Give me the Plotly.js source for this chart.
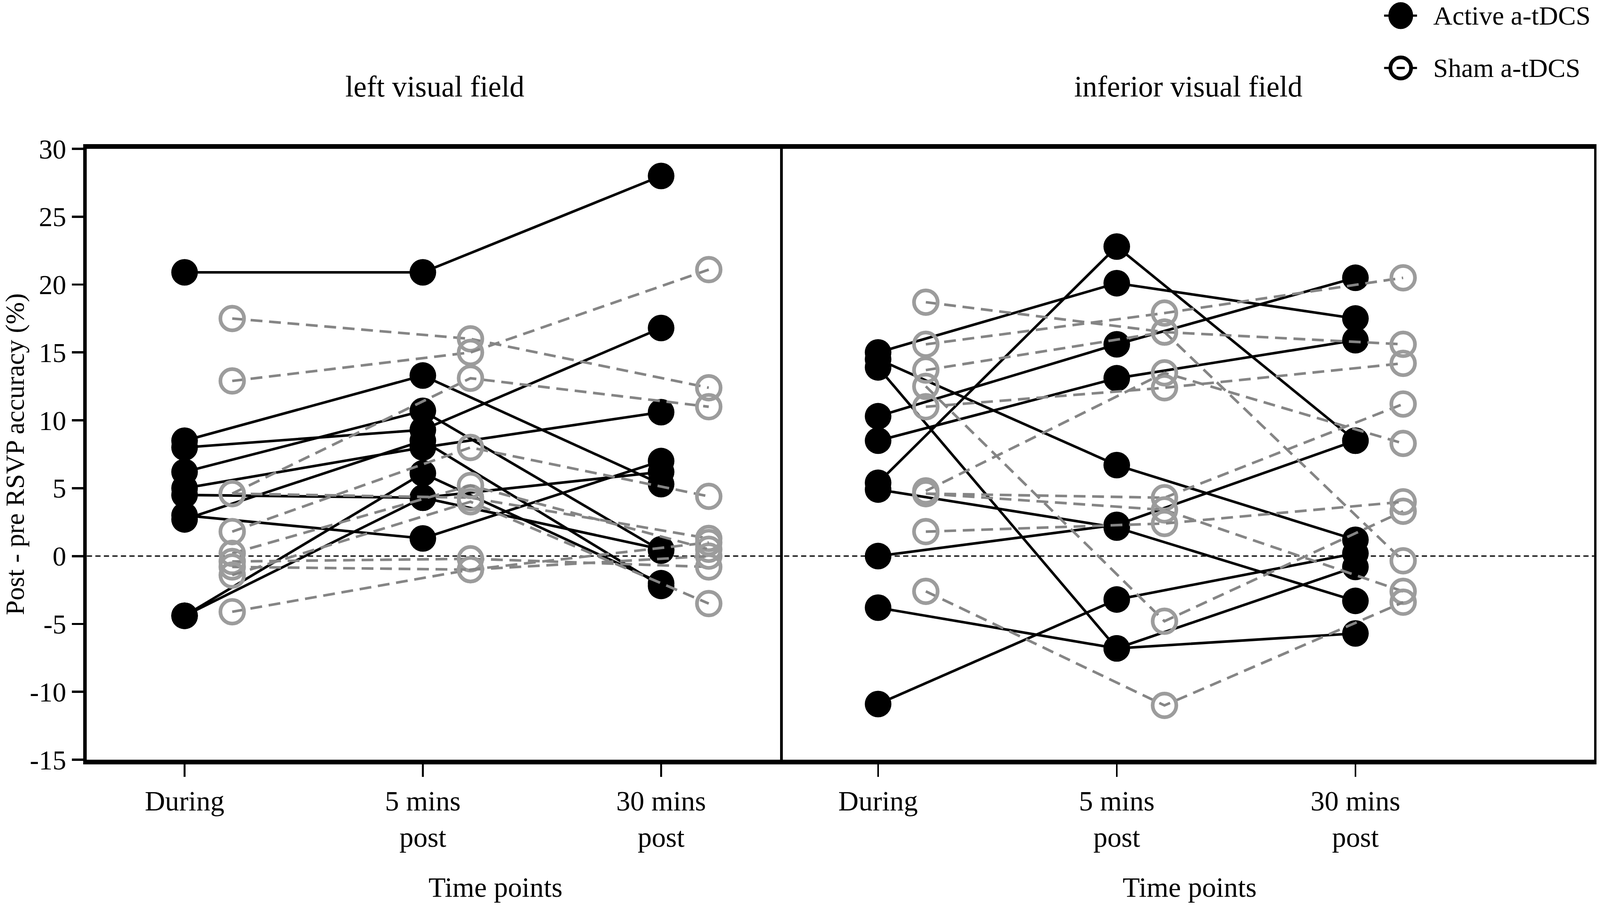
<!DOCTYPE html>
<html>
<head>
<meta charset="utf-8">
<script src="https://cdn.plot.ly/plotly-3.0.1.min.js"></script>
<style>
  html, body { margin: 0; padding: 0; background: #fff; overflow: hidden; }
  #chart { width: 100vw; height: 100vh; }
</style>
</head>
<body>
<div id="chart"></div>
<script>
// time points (x categories), panel names and y tick labels
var timeLabels = ['During', '5 mins<br>post', '30 mins<br>post'];
var panelTitles = ['left visual field', 'inferior visual field'];
var yTickVals = [-15, -10, -5, 0, 5, 10, 15, 20, 25, 30];
var yTickText = ['-15', '-10', '-5', '0', '5', '10', '15', '20', '25', '30'];

// post - pre RSVP accuracy (%), one row per participant: [During, 5 mins post, 30 mins post]
var leftActive = [
  [20.9, 20.9, 28.0],
  [8.5, 13.3, 5.3],
  [8.0, 9.3, 16.8],
  [6.2, 10.7, 0.4],
  [5.0, 8.0, 10.6],
  [4.5, 4.3, 6.2],
  [3.0, 1.3, 7.0],
  [2.7, 8.5, -2.2],
  [-4.4, 6.1, -2.0],
  [-4.4, 4.3, 0.5]
];
var leftSham = [
  [17.5, 16.0, 12.4],
  [12.9, 15.0, 21.1],
  [4.6, 13.1, 11.0],
  [4.6, 4.3, 1.3],
  [1.8, 8.0, 4.4],
  [0.2, 5.2, 0.5],
  [-0.4, -0.2, -0.8],
  [-0.8, -1.0, 0.0],
  [-1.4, 4.0, -3.5],
  [-4.1, -1.0, 1.0]
];
var rightActive = [
  [15.0, 20.1, 17.5],
  [14.5, 6.7, 1.2],
  [13.9, -6.8, -5.7],
  [10.3, 15.6, 20.5],
  [8.5, 13.1, 15.9],
  [5.4, 22.8, 8.5],
  [4.9, 2.1, -3.3],
  [0.0, 2.3, 8.5],
  [-3.8, -6.8, -0.8],
  [-10.9, -3.2, 0.2]
];
var rightSham = [
  [18.7, 16.5, 15.6],
  [15.6, 17.9, 20.5],
  [13.7, 16.5, -0.35],
  [12.5, -4.8, 3.3],
  [11.0, 12.4, 14.2],
  [4.8, 13.5, 8.3],
  [4.6, 4.3, 11.2],
  [4.6, 3.4, -2.6],
  [1.8, 2.4, 4.0],
  [-2.6, -11.0, -3.4]
];

// design size; the page is scaled to whatever the viewport really is
var W = 4328, H = 2317;
var vw = window.innerWidth || W, vh = window.innerHeight || H;
var s = Math.min(vw / W, vh / H);
function px(x) { return x / W; }
function py(y) { return 1 - y / H; }
function k(v) { return v * s; }

var FONT = 'Liberation Serif, Times New Roman, serif';
var shamShift = 0.2;   // sham drawn a little right of the active column

var traces = [];
function addGroup(rows, xa, ya, sham) {
  rows.forEach(function(vals) {
    var xs = vals.map(function(v, i) { return sham ? i + shamShift : i; });
    traces.push({
      x: xs, y: vals, xaxis: xa, yaxis: ya,
      type: 'scatter', mode: 'lines+markers',
      showlegend: false, hoverinfo: 'y',
      line: sham ? { color: '#858585', width: k(7), dash: k(32) + 'px,' + k(18) + 'px' } : { color: '#000', width: k(7) },
      marker: sham
        ? { symbol: 'circle-open', size: k(64), color: '#9c9c9c', line: { width: k(10), color: '#9c9c9c' } }
        : { symbol: 'circle', size: k(72), color: '#000', line: { width: 0 } }
    });
  });
}
addGroup(leftActive, 'x', 'y', false);
addGroup(leftSham, 'x', 'y', true);
addGroup(rightActive, 'x2', 'y2', false);
addGroup(rightSham, 'x2', 'y2', true);

var xL = [px(235), px(2117)];
var xR = [px(2117), px(4312)];
var yDom = [py(1945), py(381)];
var tickFont = { family: FONT, size: k(76), color: '#000' };
function txt(size) { return { family: FONT, size: k(size), color: '#000' }; }

var xBase = {
  tickmode: 'array', tickvals: [0, 1, 2], ticktext: timeLabels,
  ticks: 'outside', ticklen: k(33), tickwidth: k(5), tickcolor: '#000',
  showline: true, linewidth: k(13), linecolor: '#000', mirror: true,
  showgrid: false, zeroline: false, tickfont: tickFont, fixedrange: true
};
var xInner = {
  tickmode: 'array', tickvals: [0, 1, 2], showticklabels: false,
  ticks: 'inside', ticklen: k(31), tickwidth: k(5), tickcolor: '#000',
  showline: false, showgrid: false, zeroline: false
};

var layout = {
  width: vw, height: vh,
  paper_bgcolor: '#fff', plot_bgcolor: '#fff',
  margin: { l: 0, r: 0, t: 0, b: 0 },
  showlegend: false,
  font: txt(72),
  xaxis: Object.assign({}, xBase, { domain: xL, range: [-0.41, 2.51], anchor: 'y' }),
  xaxis3: Object.assign({}, xInner, { overlaying: 'x', anchor: 'y', range: [-0.41, 2.51] }),
  xaxis2: Object.assign({}, xBase, { domain: xR, range: [-0.40, 3.0], anchor: 'y2' }),
  xaxis4: Object.assign({}, xInner, { overlaying: 'x2', anchor: 'y2', range: [-0.40, 3.0] }),
  yaxis: {
    domain: yDom, range: [-15, 30], tickmode: 'array', tickvals: yTickVals, ticktext: yTickText, anchor: 'x',
    ticks: 'outside', ticklen: k(31), tickwidth: k(6), tickcolor: '#000',
    showline: true, linewidth: k(10), linecolor: '#000',
    showgrid: false, zeroline: false, tickfont: { family: FONT, size: k(74), color: '#000' },
    title: { text: 'Post - pre RSVP accuracy (%)', font: txt(72), standoff: k(14) }
  },
  yaxis3: {
    overlaying: 'y', anchor: 'x', range: [-15, 30], tickmode: 'array', tickvals: yTickVals,
    ticks: 'inside', ticklen: k(31), tickwidth: k(6), tickcolor: '#000',
    showticklabels: false, showline: false, showgrid: false, zeroline: false
  },
  yaxis2: {
    domain: yDom, range: [-15, 30], anchor: 'x2', matches: 'y',
    showticklabels: false, ticks: '',
    showline: true, linewidth: k(7), linecolor: '#000', mirror: true,
    showgrid: false, zeroline: false
  },
  shapes: [
    // reference line at zero across both panels
    { type: 'line', xref: 'paper', yref: 'y', x0: xL[0], x1: xR[1], y0: 0, y1: 0,
      line: { color: '#000', width: k(3.5), dash: k(14) + 'px,' + k(9) + 'px' }, layer: 'below' },
    // legend keys
    { type: 'line', xref: 'paper', yref: 'paper', x0: px(3744), x1: px(3833), y0: py(40), y1: py(40),
      line: { color: '#000', width: k(6) } },
    { type: 'circle', xref: 'paper', yref: 'paper', x0: px(3756), x1: px(3822), y0: py(6), y1: py(74),
      fillcolor: '#000', line: { color: '#000', width: 1 } },
    { type: 'line', xref: 'paper', yref: 'paper', x0: px(3744), x1: px(3833), y0: py(174), y1: py(174),
      line: { color: '#000', width: k(6), dash: k(22) + 'px,' + k(12) + 'px' } },
    { type: 'circle', xref: 'paper', yref: 'paper', x0: px(3761), x1: px(3817), y0: py(147), y1: py(201),
      line: { color: '#000', width: k(10) } }
  ],
  annotations: [
    { text: panelTitles[0], xref: 'paper', yref: 'paper', x: px(1176), y: py(221),
      xanchor: 'center', yanchor: 'middle', showarrow: false, font: txt(80) },
    { text: panelTitles[1], xref: 'paper', yref: 'paper', x: px(3214), y: py(221),
      xanchor: 'center', yanchor: 'middle', showarrow: false, font: txt(80) },
    { text: 'Time points', xref: 'paper', yref: 'paper', x: px(1340), y: py(2272),
      xanchor: 'center', yanchor: 'middle', showarrow: false, font: txt(76) },
    { text: 'Time points', xref: 'paper', yref: 'paper', x: px(3218), y: py(2272),
      xanchor: 'center', yanchor: 'middle', showarrow: false, font: txt(76) },
    { text: 'Active a-tDCS', xref: 'paper', yref: 'paper', x: px(3875), y: py(40),
      xanchor: 'left', yanchor: 'middle', showarrow: false, font: txt(72) },
    { text: 'Sham a-tDCS', xref: 'paper', yref: 'paper', x: px(3875), y: py(174),
      xanchor: 'left', yanchor: 'middle', showarrow: false, font: txt(72) }
  ]
};

Plotly.newPlot('chart', traces, layout, { displayModeBar: false, staticPlot: true });
</script>
</body>
</html>
